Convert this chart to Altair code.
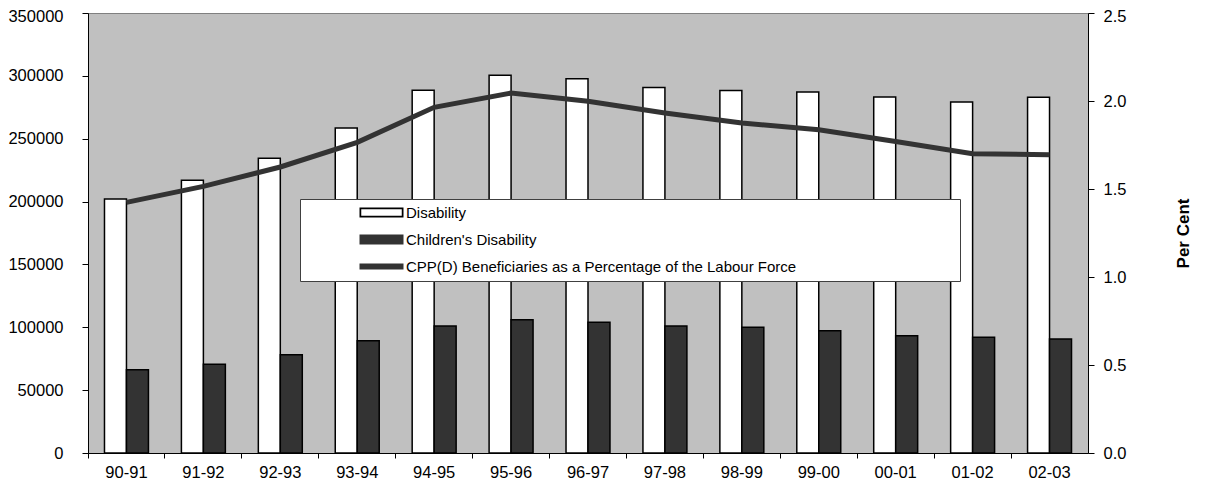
import altair as alt
import pandas as pd

years = ["90-91", "91-92", "92-93", "93-94", "94-95", "95-96", "96-97",
         "97-98", "98-99", "99-00", "00-01", "01-02", "02-03"]
disability = [202000, 216900, 234400, 258500, 288500, 300400, 297700,
              290800, 288400, 287100, 283200, 279200, 282900]
children = [66300, 70500, 78200, 89300, 101000, 106000, 104000,
            101000, 100000, 97300, 93300, 92000, 90700]
percent = [1.424, 1.515, 1.625, 1.765, 1.964, 2.045, 1.998,
           1.932, 1.875, 1.837, 1.770, 1.700, 1.695]

S1 = "Disability"
S2 = "Children's Disability"
S3 = "CPP(D) Beneficiaries as a Percentage of the Labour Force"
series_names = [S1, S2, S3]
bar_series = [S1, S2]
bar_fills = ["#ffffff", "#333333"]
line_color = "#333333"
# legend symbol colours: the Disability key is a black outline (ring) on the white legend box
key_colors = ["#000000", "#333333", "#333333"]

left_ticks = [0, 50000, 100000, 150000, 200000, 250000, 300000, 350000]
right_ticks = [0.0, 0.5, 1.0, 1.5, 2.0, 2.5]

bars_df = pd.DataFrame({
    "year": years * 2,
    "series": [S1] * len(years) + [S2] * len(years),
    "value": disability + children,
})
line_df = pd.DataFrame({"year": years, "series": [S3] * len(years), "pct": percent})

FONT = "Liberation Sans"
TICK_FS = 16.5
RING_PATH = ("M-4.4,-1L4.4,-1L4.4,1L-4.4,1Z"
             "M-4.05,-0.65L-4.05,0.65L4.05,0.65L4.05,-0.65Z")
BAR_PATH = "M-4.4,-1L4.4,-1L4.4,1L-4.4,1Z"
LINE_PATH = "M-4.4,-0.6L4.4,-0.6L4.4,0.6L-4.4,0.6Z"
key_shapes = [RING_PATH, BAR_PATH, LINE_PATH]

# invisible padding (kept by a zero-width space) so the legend frame is as wide as in the reference
pad = "\u2003" * 10 + "\u2002" + "\u200b"
legend = alt.Legend(
    title=None, orient="none", legendX=212, legendY=186, direction="vertical",
    fillColor="#ffffff", strokeColor="#404040", padding=6,
    symbolSize=100, symbolOffset=68, labelOffset=17, rowPadding=11,
    symbolStrokeWidth=0, symbolOpacity=1,
    labelFont=FONT, labelFontSize=15, labelColor="#000000", labelLimit=0,
    labelExpr="datum.label + '" + pad + "'",
)

def x_enc():
    return alt.X(
        "year:N", sort=years, title=None,
        scale=alt.Scale(paddingInner=0, paddingOuter=0),
        axis=alt.Axis(bandPosition=0, labelAngle=0, labelFont=FONT, labelFontSize=TICK_FS,
                      labelColor="#000000", tickColor="#000000", domainColor="#000000",
                      tickSize=5, labelPadding=6, grid=False),
    )

# invisible points; they only carry the legend
keys = alt.Chart(bars_df).mark_point(filled=True, size=1, opacity=0).encode(
    x=x_enc(),
    y=alt.Y("value:Q", axis=None, scale=alt.Scale(domain=[0, 350000], nice=False)),
    color=alt.Color("series:N", scale=alt.Scale(domain=series_names, range=key_colors),
                    legend=legend),
    shape=alt.Shape("series:N", scale=alt.Scale(domain=series_names, range=key_shapes),
                    legend=legend),
)

bars = alt.Chart(bars_df).mark_bar(stroke="#000000", strokeWidth=1.5).encode(
    x=x_enc(),
    xOffset=alt.XOffset("series:N", sort=bar_series,
                        scale=alt.Scale(paddingInner=0, paddingOuter=0.75)),
    y=alt.Y("value:Q", title=None,
            scale=alt.Scale(domain=[0, 350000], nice=False),
            axis=alt.Axis(orient="left", values=left_ticks, format="d", labelFont=FONT,
                          labelFontSize=TICK_FS, labelColor="#000000", tickColor="#000000",
                          domainColor="#000000", tickSize=6, labelPadding=19, grid=False,
                          labelOffset={"condition": {"test": "datum.value === 350000", "value": 3},
                                       "value": 0})),
    fill=alt.Fill("series:N", scale=alt.Scale(domain=bar_series, range=bar_fills), legend=None),
)

line = alt.Chart(line_df).mark_line(strokeWidth=5, color=line_color).encode(
    x=x_enc(),
    y=alt.Y("pct:Q", title="Per Cent",
            scale=alt.Scale(domain=[0, 2.5], nice=False),
            axis=alt.Axis(orient="right", values=right_ticks, format=".1f",
                          labelFont=FONT, labelFontSize=TICK_FS, labelColor="#000000",
                          tickColor="#000000", domainColor="#000000", tickSize=6,
                          labelPadding=9, grid=False,
                          labelOffset={"condition": {"test": "datum.value === 2.5", "value": 3},
                                       "value": 0},
                          titleFont=FONT, titleFontSize=17, titleFontWeight="bold",
                          titleColor="#000000", titleAngle=270, titlePadding=67)),
)

chart = alt.layer(keys, bars, line).resolve_scale(y="independent").properties(
    width=1000, height=440,
    padding={"left": 80, "top": 5, "right": 111, "bottom": 26},
    autosize=alt.AutoSizeParams(type="none"),
    background="#ffffff",
).configure_view(
    fill="#c0c0c0", stroke="#808080", strokeWidth=1
)

chart.save("out.html", embed_options={"renderer": "svg", "actions": False})
